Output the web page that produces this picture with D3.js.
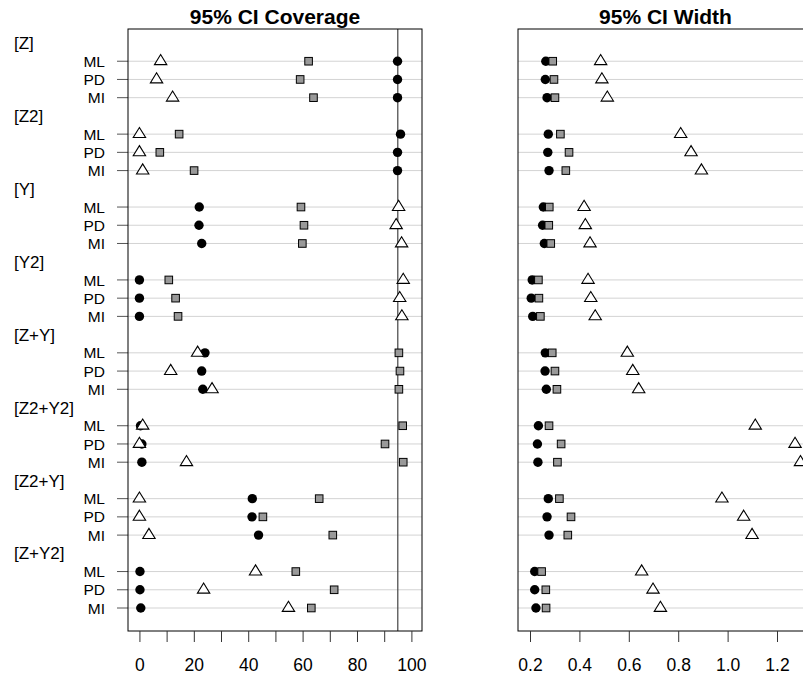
<!DOCTYPE html>
<html>
<head>
<meta charset="utf-8">
<script src="https://cdn.jsdelivr.net/npm/d3@7"></script>
<style>
  body { margin: 0; background: white; }
  text { font-family: "Liberation Sans", Arial, sans-serif; }
</style>
</head>
<body>
<div id="viz"></div>
<script>

const width = 803
const height = 682

// groups of models and the three methods shown in each group
const groups = ["[Z]", "[Z2]", "[Y]", "[Y2]", "[Z+Y]", "[Z2+Y2]", "[Z2+Y]", "[Z+Y2]"]
const methods = ["ML", "PD", "MI"]

// coverage (%), one value per group x method, in row order
const coverageCircle = [94.9, 94.9, 94.9,  96.0, 94.9, 94.9,  22.0, 21.9, 22.9,  0, 0, 0,
                        24.1, 22.9, 23.3,  0.4, 0.9, 0.9,  41.5, 41.4, 43.8,  0.2, 0.2, 0.5]
const coverageSquare = [62.2, 59.1, 64.0,  14.6, 7.5, 20.1,  59.4, 60.5, 59.9,  10.8, 13.3, 14.2,
                        95.4, 95.8, 95.4,  96.8, 90.3, 97.0,  66.1, 45.4, 71.1,  57.5, 71.6, 63.2]
const coverageTriangle = [7.8, 6.3, 12.2,  0, 0, 1.2,  95.3, 94.4, 96.4,  97.0, 95.7, 96.5,
                          21.4, 11.5, 26.7,  1.2, 0, 17.3,  0, 0, 3.5,  42.7, 23.6, 54.8]

// CI width
const widthCircle = [0.264, 0.262, 0.269,  0.274, 0.272, 0.277,  0.254, 0.251, 0.258,  0.209, 0.205, 0.211,
                     0.262, 0.261, 0.266,  0.234, 0.230, 0.232,  0.274, 0.269, 0.277,  0.219, 0.219, 0.224]
const widthSquare = [0.292, 0.297, 0.301,  0.323, 0.358, 0.345,  0.278, 0.276, 0.284,  0.234, 0.236, 0.242,
                     0.290, 0.301, 0.309,  0.277, 0.326, 0.311,  0.319, 0.366, 0.353,  0.247, 0.264, 0.265]
const widthTriangle = [0.486, 0.491, 0.513,  0.810, 0.852, 0.894,  0.419, 0.424, 0.443,  0.435, 0.446, 0.464,
                       0.594, 0.616, 0.640,  1.112, 1.273, 1.295,  0.977, 1.065, 1.099,  0.652, 0.698, 0.728]

const coverageTicks = [0, 10, 20, 30, 40, 50, 60, 70, 80, 90, 100]
const coverageTickLabels = [0, 20, 40, 60, 80, 100]
const widthTicks = [0.2, 0.4, 0.6, 0.8, 1.0, 1.2]
const nominalCoverage = 95

const baseFont = 17.5
const rowFont = 15.5
const groupFont = 17
const gridColor = "#d3d3d3"

const svg = d3.select("#viz").append("svg").attr("width", width).attr("height", height)
svg.append("rect").attr("width", width).attr("height", height).attr("fill", "white")

// build rows: a header row per group then one row per method
const rows = []
groups.forEach((g, gi) => {
    rows.push({type: "group", label: g})
    methods.forEach((m, mi) => rows.push({type: "data", label: m, k: gi*methods.length + mi}))
})
const dataRows = rows.map((r, i) => ({...r, i})).filter(r => r.type == "data")

const plotTop = 29
const plotBottom = 631
const yScale = d3.scaleLinear().domain([0, rows.length-1]).range([43, 608])

const trianglePath = "M0,-6.7 L6.2,3.4 L-6.2,3.4 Z"

function drawPanel(opts) {
    const {x0, x1, domain, title, circle, square, triangle, ticks, tickLabel, refLine, leftTicks} = opts
    const xScale = d3.scaleLinear().domain(domain).range([x0, x1])
    const g = svg.append("g")

    g.append("text").attr("x", (x0+x1)/2).attr("y", 23.5).attr("text-anchor", "middle")
        .attr("font-size", 21).attr("font-weight", "bold").text(title)

    // grid lines for data rows
    g.selectAll(".grid").data(dataRows).enter().append("line")
        .attr("x1", x0).attr("x2", x1).attr("y1", d=>yScale(d.i)).attr("y2", d=>yScale(d.i))
        .attr("stroke", gridColor).attr("stroke-width", 1)

    if (leftTicks) {
        g.selectAll(".ltick").data(dataRows).enter().append("line")
            .attr("x1", x0-11).attr("x2", x0).attr("y1", d=>yScale(d.i)).attr("y2", d=>yScale(d.i))
            .attr("stroke", "#555").attr("stroke-width", 1)
    }

    if (refLine !== undefined) {
        g.append("line").attr("x1", xScale(refLine)).attr("x2", xScale(refLine))
            .attr("y1", plotTop).attr("y2", plotBottom).attr("stroke", "#444").attr("stroke-width", 1.2)
    }

    // markers: circles, then squares, then triangles on top
    g.selectAll(".circ").data(dataRows).enter().append("circle")
        .attr("cx", d=>xScale(circle[d.k])).attr("cy", d=>yScale(d.i)).attr("r", 4.7).attr("fill", "black")
    g.selectAll(".sq").data(dataRows).enter().append("rect")
        .attr("x", d=>xScale(square[d.k])-3.8).attr("y", d=>yScale(d.i)-3.8).attr("width", 7.6).attr("height", 7.6)
        .attr("fill", "#999").attr("stroke", "black").attr("stroke-width", 1)
    g.selectAll(".tri").data(dataRows).enter().append("path")
        .attr("d", trianglePath)
        .attr("transform", d=>`translate(${xScale(triangle[d.k])}, ${yScale(d.i)})`)
        .attr("fill", "white").attr("stroke", "black").attr("stroke-width", 1.1)

    // box
    g.append("rect").attr("x", x0).attr("y", plotTop).attr("width", x1-x0).attr("height", plotBottom-plotTop)
        .attr("fill", "none").attr("stroke", "black").attr("stroke-width", 1)

    const xAxis = d3.axisBottom(xScale).tickValues(ticks).tickSize(11).tickPadding(17).tickFormat(tickLabel)
    const axisGroup = g.append("g").attr("transform", `translate(0, ${plotBottom})`).call(xAxis)
    axisGroup.select(".domain").remove()
    axisGroup.selectAll("line").attr("stroke", "#333")
    axisGroup.selectAll("text").attr("font-size", baseFont).attr("fill", "black")
        .attr("font-family", "'Liberation Sans', Arial, sans-serif")
    return xScale
}

drawPanel({
    x0: 128, x1: 422, domain: [-4.2, 103.9], title: "95% CI Coverage",
    circle: coverageCircle, square: coverageSquare, triangle: coverageTriangle,
    ticks: coverageTicks, tickLabel: d => coverageTickLabels.includes(d) ? d : "",
    refLine: nominalCoverage, leftTicks: true
})

drawPanel({
    x0: 518, x1: 813, domain: [0.1514, 1.3457], title: "95% CI Width",
    circle: widthCircle, square: widthSquare, triangle: widthTriangle,
    ticks: widthTicks, tickLabel: d3.format(".1f"),
    leftTicks: false
})

// row labels
svg.selectAll(".rowLabel").data(rows.map((r, i) => ({...r, i}))).enter().append("text")
    .attr("x", d => d.type == "group" ? 14 : 105)
    .attr("y", d => yScale(d.i)).attr("dy", "0.36em")
    .attr("text-anchor", d => d.type == "group" ? "start" : "end")
    .attr("font-size", d => d.type == "group" ? groupFont : rowFont).attr("fill", "black")
    .text(d => d.label)

</script>
</body>
</html>
